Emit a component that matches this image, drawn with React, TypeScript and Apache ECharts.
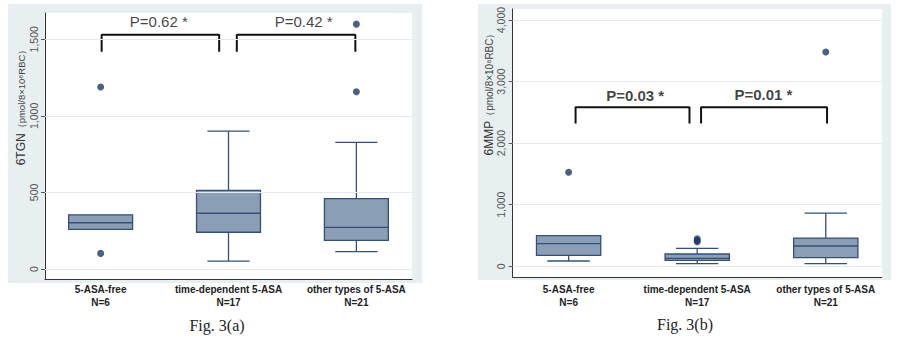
import React, { useEffect, useRef } from 'react';
import * as echarts from 'echarts';

// ---------- data ----------
const categories = ['5-ASA-free', 'time-dependent 5-ASA', 'other types of 5-ASA'];
const groupSizes = ['N=6', 'N=17', 'N=21'];

// [lower whisker, Q1, median, Q3, upper whisker]
const tgnBoxes = [
  [259, 259, 302, 354, 354],
  [52, 240, 364, 514, 901],
  [113, 187, 272, 459, 827],
];
const tgnOutliers = [
  [0, 1188],
  [0, 102],
  [2, 1599],
  [2, 1157],
];
const tgnTicks = [0, 500, 1000, 1500];
// [x start, x end, leg bottom, bracket top]
const tgnBrackets = [
  [0.008, 0.927, 1418, 1529],
  [1.065, 1.992, 1418, 1529],
];
const tgnPValues = ['P=0.62 *', 'P=0.42 *'];
const tgnPValuePos = [
  [0.455, 1619],
  [1.588, 1619],
];

const mmpBoxes = [
  [86, 179, 367, 497, 497],
  [42, 97, 130, 200, 292],
  [42, 140, 330, 459, 865],
];
const mmpOutliers = [
  [0, 1526],
  [1, 446],
  [1, 420],
  [1, 398],
  [2, 3479],
];
const mmpTicks = [0, 1000, 2000, 3000, 4000];
const mmpBrackets = [
  [0.054, 0.94, 2321, 2581],
  [1.03, 2.01, 2321, 2581],
];
const mmpPValues = ['P=0.03 *', 'P=0.01 *'];
const mmpPValuePos = [
  [0.518, 2770],
  [1.515, 2785],
];

// ---------- styling ----------
const BG = '#e8eff1';
const GRID_LINE = '#e4ebee';
const BOX_FILL = '#8a9fb6';
const BOX_LINE = '#34507a';
const DOT = '#1c3a64';
const AXIS = '#333';

function boxRenderer(params: any, api: any) {
  const x = api.value(0);
  const lo = api.coord([x, api.value(1)]);
  const q1 = api.coord([x, api.value(2)]);
  const md = api.coord([x, api.value(3)]);
  const q3 = api.coord([x, api.value(4)]);
  const hi = api.coord([x, api.value(5)]);
  const boxW = api.size([0.5, 0])[0];
  const capW = api.size([0.33, 0])[0];
  const cx = q1[0];
  const lineStyle = { stroke: BOX_LINE, lineWidth: 1.3, fill: null };
  const children: any[] = [];
  if (hi[1] < q3[1] - 0.5) {
    children.push({ type: 'line', shape: { x1: cx, y1: q3[1], x2: cx, y2: hi[1] }, style: lineStyle });
    children.push({ type: 'line', shape: { x1: cx - capW / 2, y1: hi[1], x2: cx + capW / 2, y2: hi[1] }, style: lineStyle });
  }
  if (lo[1] > q1[1] + 0.5) {
    children.push({ type: 'line', shape: { x1: cx, y1: q1[1], x2: cx, y2: lo[1] }, style: lineStyle });
    children.push({ type: 'line', shape: { x1: cx - capW / 2, y1: lo[1], x2: cx + capW / 2, y2: lo[1] }, style: lineStyle });
  }
  children.push({
    type: 'rect',
    shape: { x: cx - boxW / 2, y: q3[1], width: boxW, height: q1[1] - q3[1] },
    style: { fill: BOX_FILL, stroke: BOX_LINE, lineWidth: 1.3 },
  });
  children.push({ type: 'line', shape: { x1: cx - boxW / 2, y1: md[1], x2: cx + boxW / 2, y2: md[1] }, style: lineStyle });
  return { type: 'group', children };
}

function xAxisDef(gridIndex: number, margin: number) {
  return {
    type: 'value',
    gridIndex,
    min: -0.435,
    max: 2.435,
    axisLine: { show: true, onZero: false, lineStyle: { color: AXIS, width: 1 } },
    axisTick: { show: false },
    splitLine: { show: false },
    axisLabel: {
      customValues: [0, 1, 2],
      margin,
      formatter: (v: number) => {
        const i = Math.round(v);
        return `{b|${categories[i]}}\n{b|${groupSizes[i]}}`;
      },
      rich: {
        b: {
          fontFamily: 'Liberation Sans',
          fontWeight: 'bold',
          fontSize: 10,
          color: '#222',
          lineHeight: 13,
        },
      },
    },
  };
}

function yAxisDef(gridIndex: number, min: number, max: number, ticks: number[]) {
  return {
    type: 'value',
    gridIndex,
    min,
    max,
    axisLine: { show: true, onZero: false, lineStyle: { color: AXIS, width: 1 } },
    axisTick: { show: true, customValues: ticks, length: 4, lineStyle: { color: '#555' } },
    splitLine: { show: false },
    axisLabel: {
      customValues: ticks,
      rotate: 90,
      margin: 6,
      color: '#555',
      fontFamily: 'Liberation Sans',
      fontSize: 10.5,
      formatter: (v: number) => v.toLocaleString('en-US'),
    },
  };
}

function panelSeries(
  idx: number,
  boxes: number[][],
  outliers: number[][],
  ticks: number[],
  brackets: number[][],
  pValues: string[],
  pPos: number[][],
  bold: boolean
) {
  const s: any[] = [];
  s.push({
    type: 'line',
    xAxisIndex: idx,
    yAxisIndex: idx,
    data: [],
    z: 1,
    silent: true,
    markLine: {
      silent: true,
      symbol: 'none',
      label: { show: false },
      lineStyle: { color: GRID_LINE, type: 'solid', width: 1 },
      data: ticks.map((t) => ({ yAxis: t })),
    },
  });
  s.push({
    type: 'custom',
    xAxisIndex: idx,
    yAxisIndex: idx,
    z: 3,
    renderItem: boxRenderer,
    encode: { x: 0, y: [1, 2, 3, 4, 5] },
    data: boxes.map((b, i) => [i, ...b]),
  });
  s.push({
    type: 'scatter',
    xAxisIndex: idx,
    yAxisIndex: idx,
    z: 4,
    symbolSize: 7,
    itemStyle: { color: DOT },
    data: outliers,
  });
  brackets.forEach((b) => {
    s.push({
      type: 'line',
      xAxisIndex: idx,
      yAxisIndex: idx,
      z: 4,
      showSymbol: false,
      symbol: 'none',
      lineStyle: { color: '#111', width: 2 },
      data: [
        [b[0], b[2]],
        [b[0], b[3]],
        [b[1], b[3]],
        [b[1], b[2]],
      ],
    });
  });
  s.push({
    type: 'scatter',
    xAxisIndex: idx,
    yAxisIndex: idx,
    z: 5,
    symbolSize: 0,
    data: pPos.map((p, i) => ({ value: p, name: pValues[i] })),
    label: {
      show: true,
      position: 'inside',
      formatter: '{b}',
      fontFamily: 'Liberation Sans',
      fontSize: 15,
      fontWeight: bold ? 'bold' : 'normal',
      color: '#111',
    },
  });
  return s;
}

function buildOption() {
  return {
    animation: false,
    backgroundColor: '#fff',
    grid: [
      { left: 45, top: 13, width: 367, height: 266, show: true, backgroundColor: '#fff', borderWidth: 0 },
      { left: 512.7, top: 9, width: 369, height: 268.3, show: true, backgroundColor: '#fff', borderWidth: 0 },
    ],
    xAxis: [xAxisDef(0, 4), xAxisDef(1, 6)],
    yAxis: [yAxisDef(0, -65.3, 1671.8, tgnTicks), yAxisDef(1, -178.6, 4178.6, mmpTicks)],
    series: [
      ...panelSeries(0, tgnBoxes, tgnOutliers, tgnTicks, tgnBrackets, tgnPValues, tgnPValuePos, false),
      ...panelSeries(1, mmpBoxes, mmpOutliers, mmpTicks, mmpBrackets, mmpPValues, mmpPValuePos, true),
    ],
    graphic: [
      { type: 'rect', z: -10, silent: true, shape: { x: 8, y: 4, width: 414, height: 279 }, style: { fill: BG } },
      { type: 'rect', z: -10, silent: true, shape: { x: 478, y: 4, width: 413, height: 276 }, style: { fill: BG } },
      {
        type: 'text',
        x: 21,
        y: 105,
        rotation: Math.PI / 2,
        silent: true,
        style: {
          text: '{a|6TGN}{b|（pmol/8×10⁸RBC）}',
          align: 'center',
          verticalAlign: 'middle',
          rich: {
            a: { fontFamily: 'Liberation Sans', fontSize: 12, fill: '#333' },
            b: { fontFamily: 'Liberation Sans', fontSize: 9.5, fill: '#444' },
          },
        },
      },
      {
        type: 'text',
        x: 489,
        y: 92,
        rotation: Math.PI / 2,
        silent: true,
        style: {
          text: '{a|6MMP}{b|（pmol/8×10⁸RBC）}',
          align: 'center',
          verticalAlign: 'middle',
          rich: {
            a: { fontFamily: 'Liberation Sans', fontSize: 12, fill: '#333' },
            b: { fontFamily: 'Liberation Sans', fontSize: 10, fill: '#444' },
          },
        },
      },
      {
        type: 'text',
        x: 217,
        y: 325,
        silent: true,
        style: { text: 'Fig. 3(a)', align: 'center', verticalAlign: 'middle', fontFamily: 'Liberation Serif', fontSize: 16, fill: '#222' },
      },
      {
        type: 'text',
        x: 685,
        y: 324,
        silent: true,
        style: { text: 'Fig. 3(b)', align: 'center', verticalAlign: 'middle', fontFamily: 'Liberation Serif', fontSize: 16, fill: '#222' },
      },
    ],
  };
}

export default function App() {
  const ref = useRef<HTMLDivElement>(null);
  useEffect(() => {
    if (!ref.current) return;
    const chart = echarts.init(ref.current, null, { renderer: 'svg' });
    chart.setOption(buildOption() as any);
    return () => chart.dispose();
  }, []);
  return (
    <div
      ref={ref}
      style={{ position: 'absolute', left: 0, top: 0, width: 900, height: 338 }}
    />
  );
}
